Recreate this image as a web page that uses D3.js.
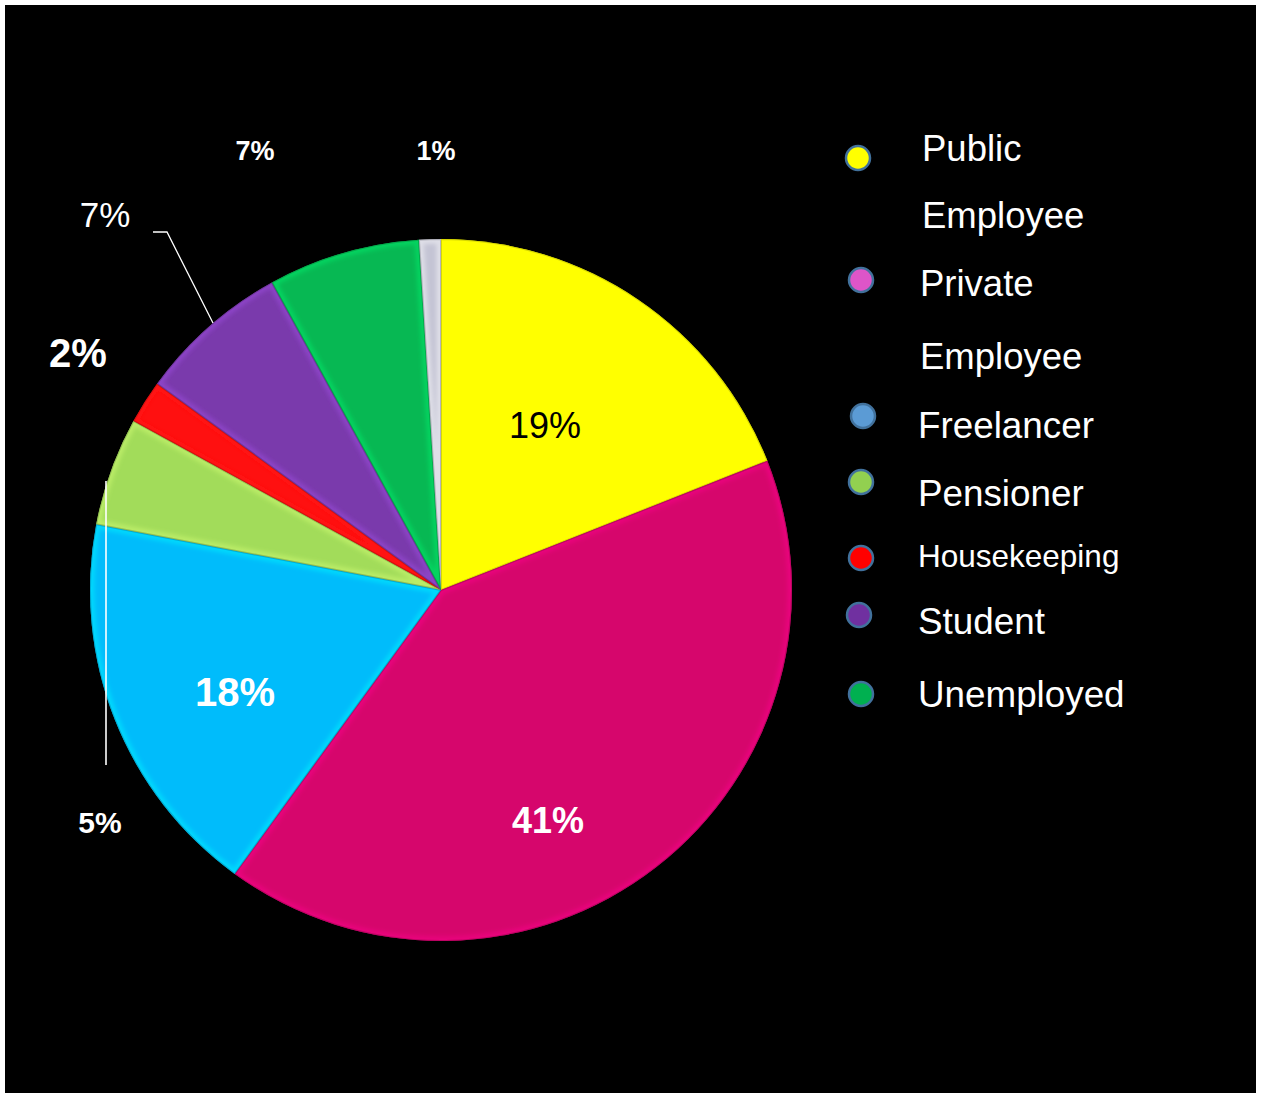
<!DOCTYPE html>
<html>
<head>
<meta charset="utf-8">
<script src="https://cdn.jsdelivr.net/npm/d3@7"></script>
<style>
  html, body { margin: 0; padding: 0; background: #ffffff; }
  svg { display: block; }
  text { font-family: "Liberation Sans", Arial, sans-serif; }
</style>
</head>
<body>
<svg id="chart" width="1262" height="1093"></svg>
<script>
// Occupation shares (percent), clockwise from 12 o'clock
const categories = ["Public Employee", "Private Employee", "Freelancer", "Pensioner",
                    "Housekeeping", "Student", "Unemployed", "Other"];
const values = [19, 41, 18, 5, 2, 7, 7, 1];
const sliceColors = ["#ffff00", "#d6066c", "#00bcfb", "#a2dc5a", "#ff1010", "#7a3aac", "#07b853", "#c4c4d4"];

// Legend entries (the small "Other" slice is not listed)
const legendLines = [["Public", "Employee"], ["Private", "Employee"], ["Freelancer"], ["Pensioner"],
                     ["Housekeeping"], ["Student"], ["Unemployed"]];
const legendColors = ["#ffff00", "#dd55c8", "#5b9bd5", "#92d050", "#ff0000", "#7030a0", "#00b050"];

const svg = d3.select("#chart");
svg.append("rect").attr("x", 5).attr("y", 5).attr("width", 1251).attr("height", 1088).attr("fill", "#000");

const defs = svg.append("defs");
defs.append("filter").attr("id", "soft").attr("x", "-10%").attr("y", "-10%").attr("width", "120%").attr("height", "120%")
  .append("feGaussianBlur").attr("stdDeviation", 2.2);

const cx = 441, cy = 590, R = 351;
const pie = d3.pie().sort(null).value(d => d.v).startAngle(0).endAngle(2 * Math.PI);
const arc = d3.arc().innerRadius(0).outerRadius(R);
const data = pie(values.map((v, i) => ({ v, name: categories[i], color: sliceColors[i] })));

data.forEach((d, i) => {
  defs.append("clipPath").attr("id", "clip" + i)
    .append("path").attr("d", arc(d)).attr("transform", `translate(${cx},${cy})`);
});

const g = svg.append("g").attr("transform", `translate(${cx},${cy})`);
g.selectAll("path.slice").data(data).join("path").attr("class", "slice")
  .attr("d", arc).attr("fill", d => d.data.color);

// bevel: soft light rim inside every edge of a slice, thin dark seam
const rims = svg.append("g");
data.forEach((d, i) => {
  const c = rims.append("g").attr("clip-path", `url(#clip${i})`);
  c.append("path").attr("d", arc(d)).attr("transform", `translate(${cx},${cy})`)
    .attr("fill", "none").attr("stroke", d3.color(d.data.color).brighter(0.8)).attr("stroke-width", 9)
    .attr("stroke-opacity", 0.45).attr("filter", "url(#soft)");
  c.append("path").attr("d", arc(d)).attr("transform", `translate(${cx},${cy})`)
    .attr("fill", "none").attr("stroke", d3.color(d.data.color).darker(1)).attr("stroke-width", 2)
    .attr("stroke-opacity", 0.5);
});

// slice value labels
const labels = [
  { i: 0, x: 545, y: 438, size: 36, weight: "normal", fill: "#000" },
  { i: 1, x: 548, y: 833, size: 36, weight: "bold", fill: "#fff" },
  { i: 2, x: 235, y: 706, size: 40, weight: "bold", fill: "#fff" },
  { i: 3, x: 100, y: 833, size: 30, weight: "bold", fill: "#fff" },
  { i: 4, x: 78, y: 367, size: 40, weight: "bold", fill: "#fff" },
  { i: 5, x: 105, y: 227, size: 35, weight: "normal", fill: "#fff" },
  { i: 6, x: 255, y: 160, size: 27, weight: "bold", fill: "#fff" },
  { i: 7, x: 436, y: 160, size: 27, weight: "bold", fill: "#fff" }
];
svg.append("g").selectAll("text").data(labels).join("text")
  .attr("x", d => d.x).attr("y", d => d.y)
  .attr("text-anchor", "middle")
  .attr("font-size", d => d.size).attr("font-weight", d => d.weight)
  .attr("fill", d => d.fill)
  .text(d => values[d.i] + "%");

// leader lines
svg.append("path").attr("d", "M153,232 L167,232 L213,323")
  .attr("fill", "none").attr("stroke", "#fff").attr("stroke-width", 1.3);
svg.append("path").attr("d", "M106,481 L106,765")
  .attr("fill", "none").attr("stroke", "#fff").attr("stroke-width", 1.6);

// legend
const legendPos = [
  { cx: 858, cy: 158, tx: 922, ty: [161, 228], size: 36.5 },
  { cx: 861, cy: 280, tx: 920, ty: [296, 369], size: 36.5 },
  { cx: 863, cy: 416, tx: 918, ty: [438], size: 36.8 },
  { cx: 861, cy: 482, tx: 918, ty: [506], size: 36.8 },
  { cx: 861, cy: 558, tx: 918, ty: [567], size: 31.5 },
  { cx: 859, cy: 615, tx: 918, ty: [634], size: 36.8 },
  { cx: 861, cy: 694, tx: 918, ty: [707], size: 36.8 }
];
const leg = svg.append("g").selectAll("g").data(legendLines).join("g");
leg.append("circle")
  .attr("cx", (d, i) => legendPos[i].cx).attr("cy", (d, i) => legendPos[i].cy)
  .attr("r", 12).attr("fill", (d, i) => legendColors[i])
  .attr("stroke", "#41719c").attr("stroke-width", 2.5);
leg.each(function (lines, i) {
  const p = legendPos[i];
  lines.forEach((t, k) => {
    d3.select(this).append("text").attr("x", p.tx).attr("y", p.ty[k])
      .attr("font-size", p.size).attr("fill", "#fff").text(t);
  });
});
</script>
</body>
</html>
